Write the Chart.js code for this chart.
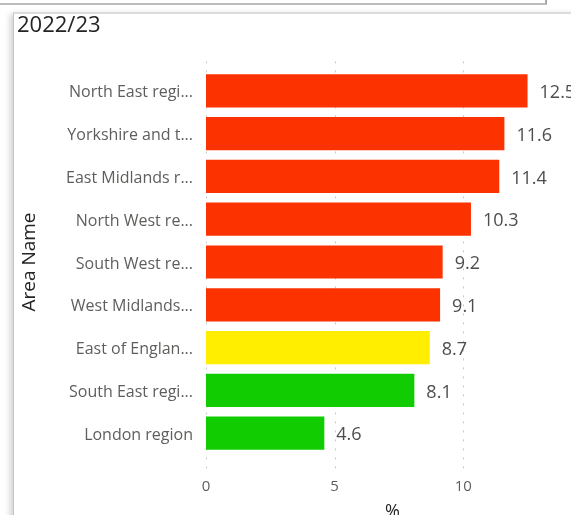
<!DOCTYPE html>
<html><head><meta charset="utf-8">
<script src="https://cdn.jsdelivr.net/npm/chart.js@4.4.1/dist/chart.umd.min.js"></script>
<style>
html,body{margin:0;padding:0;background:#fff;overflow:hidden;width:571px;height:515px;}
#wrap{position:relative;width:571px;height:515px;overflow:hidden;background:#fff;}
#prev{position:absolute;left:-4px;top:-10px;width:549px;height:13px;border-right:2px solid #a9a9a9;border-bottom:2px solid #bdbdbd;}
#card{position:absolute;left:13px;top:12px;width:600px;height:600px;border-top:2px solid #dcdcdc;border-left:1px solid #c4c4c4;box-shadow:-5px 0 6px -2px rgba(0,0,0,0.18);background:#fff;}
canvas{position:absolute;left:0;top:0;}
</style></head>
<body>
<div id="wrap">
  <div id="prev"></div>
  <div id="card"></div>
  <canvas id="c" width="580" height="540" style="width:580px;height:540px;"></canvas>
</div>
<script>
// ---- data ----
const categories = ["North East regi...", "Yorkshire and t...", "East Midlands r...", "North West re...", "South West re...", "West Midlands...", "East of Englan...", "South East regi...", "London region"];
const values = [12.5, 11.6, 11.4, 10.3, 9.2, 9.1, 8.7, 8.1, 4.6];
const ragStatus = ["red", "red", "red", "red", "red", "red", "amber", "green", "green"];
const xTicks = [0, 5, 10];
const chartTitle = "2022/23";
const yAxisTitle = "Area Name";
const xAxisTitle = "%";

// ---- styles ----
const RAG_COLORS = {red: '#FC3200', amber: '#FFEE00', green: '#10CC00'};
const FONT = 'Open Sans';

const gridPlugin = {
  id: 'dotGrid',
  beforeDatasetsDraw(chart) {
    const {ctx, chartArea, scales: {x}} = chart;
    ctx.save();
    ctx.strokeStyle = '#C8C8C8';
    ctx.lineWidth = 1;
    ctx.setLineDash([2, 7]);
    x.ticks.forEach(t => {
      const px = Math.round(x.getPixelForValue(t.value)) + 0.5;
      ctx.beginPath();
      ctx.moveTo(px, chartArea.top - 8);
      ctx.lineTo(px, chartArea.bottom + 16);
      ctx.stroke();
    });
    ctx.restore();
  }
};

const valuePlugin = {
  id: 'valueLabels',
  afterDatasetsDraw(chart) {
    const {ctx} = chart;
    const meta = chart.getDatasetMeta(0);
    ctx.save();
    ctx.font = '18px "' + FONT + '"';
    ctx.fillStyle = '#4D4D4D';
    ctx.textBaseline = 'middle';
    ctx.textAlign = 'left';
    meta.data.forEach((bar, i) => {
      ctx.fillText(values[i].toFixed(1), bar.x + 12, bar.y + 2);
    });
    ctx.restore();
  }
};

new Chart(document.getElementById('c'), {
  type: 'bar',
  data: {
    labels: categories,
    datasets: [{
      data: values,
      backgroundColor: ragStatus.map(s => RAG_COLORS[s]),
      categoryPercentage: 1,
      barPercentage: 0.775,
      borderWidth: 0
    }]
  },
  options: {
    indexAxis: 'y',
    responsive: false,
    animation: false,
    devicePixelRatio: 1,
    layout: {padding: {left: 17, right: 1, top: 0, bottom: 0}},
    plugins: {
      legend: {display: false},
      tooltip: {enabled: false},
      title: {
        display: true, text: chartTitle, align: 'start', color: '#252423',
        font: {family: FONT, size: 22, weight: 'normal'},
        padding: {top: 13, bottom: 30}
      }
    },
    scales: {
      x: {
        type: 'linear', min: 0, max: 14.5,
        grid: {display: false, drawTicks: false},
        border: {display: false},
        ticks: {stepSize: 5, includeBounds: false, color: '#605E5C', font: {family: FONT, size: 15}, padding: 23},
        afterBuildTicks: s => { s.ticks = xTicks.map(v => ({value: v})); },
        afterFit: s => { s.height = 85.4; },
        title: {display: true, text: xAxisTitle, color: '#252423', font: {family: FONT, size: 18}, padding: {top: 0, bottom: 17}}
      },
      y: {
        grid: {display: false, drawTicks: false},
        border: {display: false},
        ticks: {color: '#605E5C', font: {family: FONT, size: 16}, padding: 13, labelOffset: 2},
        afterFit: s => { s.width = 189; },
        title: {display: true, text: yAxisTitle, color: '#252423', font: {family: FONT, size: 19}, padding: {top: 1, bottom: 0}}
      }
    }
  },
  plugins: [gridPlugin, valuePlugin]
});
</script>
</body></html>
